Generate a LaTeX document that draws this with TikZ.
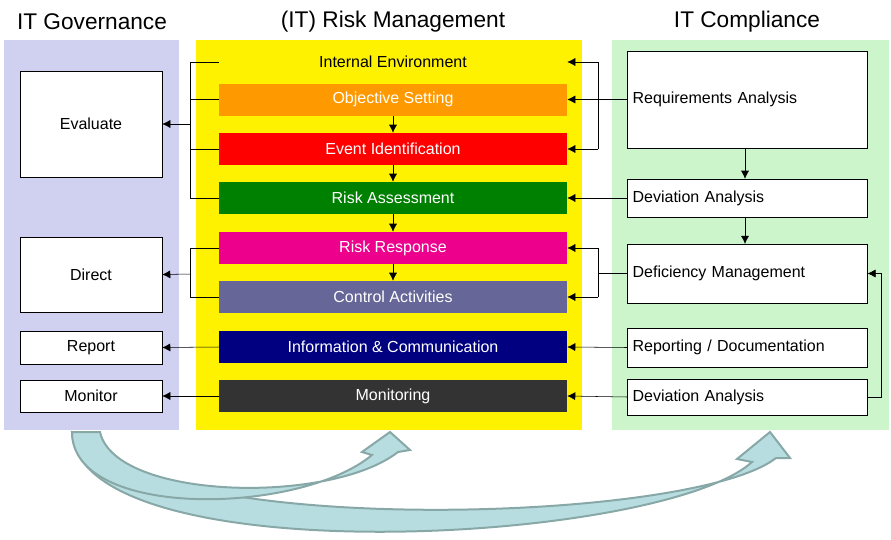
\documentclass[tikz,border=0pt]{standalone}
\usepackage{fontspec}
\setmainfont{Liberation Sans}
\usetikzlibrary{positioning,calc,arrows.meta}
\definecolor{govbg}{HTML}{D0D0F0}
\definecolor{compbg}{HTML}{CCF5CC}
\definecolor{ctrl}{HTML}{666699}
\definecolor{arrfill}{HTML}{B8DDE0}
\definecolor{arrline}{HTML}{88A8A8}
\tikzset{
  bar/.style={minimum width=261pt,minimum height=24pt,inner sep=0pt,text=white,font=\fontsize{12}{14}\selectfont},
  box/.style={draw,fill=white,minimum width=106.5pt,inner sep=0pt,font=\fontsize{12}{14}\selectfont},
  rbox/.style={draw,fill=white,minimum width=180pt,inner sep=0pt,anchor=west,text width=172pt,align=left,font=\fontsize{12}{14}\selectfont},
  title/.style={font=\fontsize{17}{20}\selectfont},
  link/.style={-{Latex[length=6pt,width=6pt]}},
}
\begin{document}
\begin{tikzpicture}[x=0.75pt,y=-0.75pt]
\useasboundingbox (0,0) rectangle (891,539);
% panels
\fill[govbg] (4,40) rectangle (179,430);
\fill[yellow] (196,40) rectangle (582,430);
\fill[compbg] (612,40) rectangle (889,430);
\node[title] (tgov) at (92,22) {IT Governance};
\node[title] (trm) at (393,22) {(IT) Risk Management};
\node[title] (tcomp) at (747,22) {IT Compliance};
% governance
\node[box,minimum height=79.5pt] (eval) at (91,124) {Evaluate};
\node[box,minimum height=56pt] (dir) at (91,274.5) {Direct};
\node[box,minimum height=24.5pt] (rep) at (91,347.5) {Report};
\node[box,minimum height=24pt] (mon) at (91,396) {Monitor};
% risk management
\node[bar,text=black] (ie) at (393,62) {Internal Environment};
\node[bar,fill=orange!80!yellow] (os) at (393,99.5) {Objective Setting};
\node[bar,fill=red] (ei) at (393,149) {Event Identification};
\node[bar,fill=green!50!black] (ra) at (393,198) {Risk Assessment};
\node[bar,fill=magenta] (rr) at (393,248) {Risk Response};
\node[bar,fill=ctrl] (ca) at (393,297) {Control Activities};
\node[bar,fill=blue!50!black] (ic) at (393,347) {Information \& Communication};
\node[bar,fill=black!80] (mo) at (393,396) {Monitoring};
\foreach \a/\b in {os/ei,ei/ra,ra/rr,rr/ca}
  \draw[link] (\a) -- (\b);
% compliance
\node[rbox,minimum height=72.5pt] (req) at (627,99.5) {Requirements Analysis};
\node[rbox,minimum height=28.5pt] (dev) at (627,198) {Deviation Analysis};
\node[rbox,minimum height=44pt] (def) at (627,273.5) {Deficiency Management};
\node[rbox,minimum height=29pt] (repd) at (627,347.5) {Reporting / Documentation};
\node[rbox,minimum height=27pt] (dev2) at (627,397) {Deviation Analysis};
\draw[link] (req.south -| 745,0) -- (dev.north -| 745,0);
\draw[link] (dev.south -| 745,0) -- (def.north -| 745,0);
% left connectors
\draw (ie.west) -- ++(-28,0) |- (os.west);
\draw (ei.west) -- ++(-28,0) |- (ra.west);
\draw (ie.west) ++(-28,0) -- ++(0,136);
\draw[link] (191,124) -- (eval.east);
\draw (rr.west) -- ++(-28,0) |- (ca.west);
\draw[link] (191,274) -- (dir.east);
\draw[link] (ic.west) -- (rep.east);
\draw[link] (mo.west) -- (mon.east);
% right connectors
\draw (req.west) -- (598,99.5);
\draw[link] (598,62) -- (ie.east);
\draw[link] (598,99.5) -- (os.east);
\draw[link] (598,149) -- (ei.east);
\draw (598,62) -- (598,149);
\draw[link] (dev.west) -- (ra.east);
\draw (def.west) -- (598,273.5);
\draw[link] (598,248) -- (rr.east);
\draw[link] (598,297) -- (ca.east);
\draw (598,248) -- (598,297);
\draw[link] (repd.west) -- (ic.east);
\draw[link] (dev2.west) -- (mo.east);
\draw[link] (dev2.east) -- ++(14,0) |- (def.east);
% cycle arrows
\filldraw[fill=arrfill,draw=arrline,line width=1.5pt]
  (72,432) .. controls (78,575) and (660,545) .. (752,462) -- (737,459) -- (770,432)
  -- (790,458) -- (776,458) .. controls (690,525) and (150,535) .. (100,440) -- cycle;
\filldraw[fill=arrfill,draw=arrline,line width=1.5pt]
  (72,432) .. controls (72,520) and (300,515) .. (372,455) -- (362,452) -- (390,432)
  -- (410,450) -- (398,452) .. controls (330,505) and (115,500) .. (100,432) -- cycle;
\end{tikzpicture}
\end{document}
